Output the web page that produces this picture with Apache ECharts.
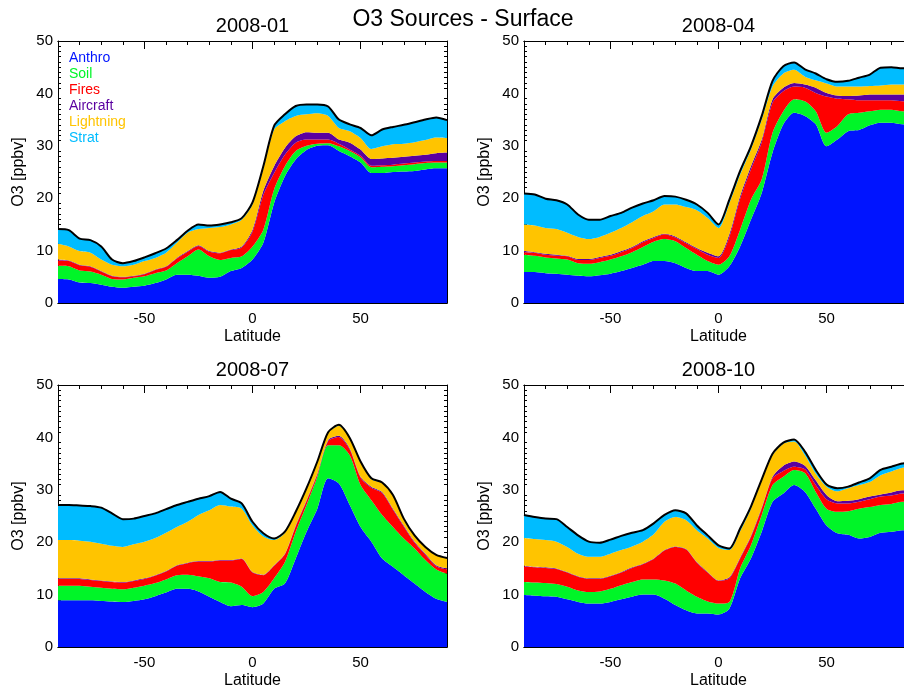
<!DOCTYPE html>
<html>
<head>
<meta charset="utf-8">
<title>O3 Sources - Surface</title>
<script src="https://cdn.jsdelivr.net/npm/echarts@6.0.0/dist/echarts.min.js"></script>
<style>
  html, body { margin: 0; padding: 0; background: #fff; }
  #chart { width: 904px; height: 687px; }
</style>
</head>
<body>
<div id="chart"></div>
<script>
// latitude grid (deg)
var lat = [-90,-85,-80,-75,-70,-65,-60,-55,-50,-45,-40,-35,-30,-25,-20,-15,-10,-5,0,
           5,10,15,20,25,30,35,40,45,50,55,60,65,70,75,80,85,90];

var sourceNames = ['Anthro', 'Soil', 'Fires', 'Aircraft', 'Lightning', 'Strat'];

// 2008-01 contributions [ppbv]
var anthroJan    = [4.6,4.5,3.9,3.8,3.5,3.1,2.9,3.1,3.3,3.8,4.5,5.4,5.4,5.2,4.8,5.0,6.1,6.7,8.3,11.5,19.1,24.2,27.4,29.2,30.0,30.1,29.0,28.0,26.8,24.8,24.8,25.0,25.1,25.2,25.5,25.7,25.7];
var soilJan      = [2.5,2.5,2.3,2.2,1.9,1.5,1.6,1.7,1.8,1.9,1.7,2.2,3.5,5.0,4.1,3.2,2.5,2.2,2.5,2.5,2.6,1.9,1.6,0.8,0.4,0.4,0.9,1.0,1.0,1.1,1.2,1.1,1.2,1.3,1.2,1.1,1.1];
var firesJan     = [1.0,1.0,1.0,0.9,0.6,0.5,0.4,0.3,0.4,0.6,0.7,0.9,0.9,0.7,0.9,1.3,1.5,1.7,2.8,6.6,3.1,2.2,1.6,1.2,0.8,0.7,0.5,0.3,0.3,0.3,0.3,0.3,0.3,0.3,0.3,0.3,0.3];
var aircraftJan  = [0.2,0.1,0.1,0.1,0.1,0.1,0.1,0.1,0.1,0.1,0.1,0.1,0.1,0.1,0.1,0.1,0.1,0.2,0.4,0.8,1.3,1.3,1.2,1.4,1.3,1.3,0.8,1.3,1.2,1.3,1.3,1.3,1.3,1.3,1.3,1.5,1.6];
var lightningJan = [3.0,2.7,2.6,2.6,2.2,2.1,2.0,2.1,2.4,2.2,2.6,2.9,3.5,3.1,4.4,4.9,4.8,5.1,4.8,4.2,7.0,5.1,3.9,3.4,3.7,3.2,2.2,2.2,2.2,1.9,2.3,2.6,2.5,2.6,2.8,3.0,2.8];
var stratJan     = [2.8,3.1,2.4,2.4,2.5,1.0,0.6,0.7,0.7,0.9,0.8,0.5,0.4,0.9,0.5,0.5,0.4,0.3,0.4,0.5,0.7,1.3,1.9,1.9,1.7,1.8,1.6,1.3,1.9,2.6,3.2,3.3,3.6,3.8,3.9,3.8,3.4];

// 2008-04
var anthroApr    = [5.9,5.9,5.7,5.6,5.4,5.2,5.1,5.3,5.6,6.1,6.7,7.3,8.0,8.0,7.6,6.7,6.1,6.1,5.4,7.0,10.8,15.9,21.0,28.7,34.1,36.3,35.7,34.1,29.9,31.2,32.8,33.0,33.9,34.4,34.4,34.1,34.0];
var soilApr      = [3.3,3.1,3.0,2.9,2.9,2.4,2.4,2.5,2.7,2.8,3.0,3.4,3.7,4.2,4.2,3.8,3.1,1.9,1.9,1.9,3.2,3.8,2.6,3.8,2.5,2.6,2.8,2.5,2.6,2.6,3.2,3.3,2.7,2.5,2.5,2.5,2.5];
var firesApr     = [0.5,0.6,0.5,0.5,0.6,0.6,0.7,0.8,0.7,0.8,0.8,0.9,0.7,0.9,0.7,0.9,1.1,1.2,1.3,3.7,5.9,5.8,7.1,5.7,3.8,2.4,2.6,3.5,6.9,5.2,2.9,2.4,2.1,1.8,1.8,1.9,1.9];
var aircraftApr  = [0.2,0.1,0.2,0.2,0.1,0.2,0.2,0.2,0.2,0.2,0.2,0.2,0.2,0.1,0.2,0.2,0.2,0.4,0.3,0.5,0.5,0.6,0.5,0.7,0.7,0.7,0.6,1.0,0.7,0.6,0.6,0.9,1.1,1.1,1.1,1.3,1.3];
var lightningApr = [5.1,5.1,4.9,4.9,4.4,4.2,3.8,3.8,4.2,4.4,4.7,4.8,4.9,5.6,6.1,6.7,7.2,6.6,5.4,5.9,4.1,3.2,3.8,2.4,2.7,2.5,1.5,1.4,1.8,1.7,1.8,1.7,1.6,1.7,1.9,1.9,2.0];
var stratApr     = [5.9,5.9,5.6,5.5,5.4,4.3,3.7,3.3,3.2,2.9,2.8,2.4,2.1,1.6,1.5,1.4,1.1,1.0,0.7,0.7,0.7,0.6,0.7,1.1,1.4,1.4,1.4,1.3,0.8,0.9,1.1,1.7,2.2,3.4,3.3,3.1,3.1];

// 2008-07
var anthroJul    = [8.9,8.9,8.9,8.9,8.8,8.7,8.6,8.8,9.1,9.7,10.4,11.1,11.1,10.6,9.6,8.6,7.8,8.0,7.6,8.3,11.1,12.1,16.9,22.0,26.4,32.2,31.2,27.1,22.9,20.1,16.9,15.3,13.7,12.1,10.5,9.2,8.6];
var soilJul      = [2.8,2.8,2.8,2.6,2.5,2.4,2.4,2.5,2.6,2.5,2.5,2.6,2.7,2.9,3.5,3.8,4.5,3.5,2.1,2.2,2.0,4.1,5.1,5.1,6.1,6.3,7.3,9.5,8.0,7.9,8.3,7.6,7.0,6.7,6.1,5.6,5.4];
var firesJul     = [1.3,1.3,1.3,1.3,1.3,1.3,1.3,1.3,1.3,1.4,1.5,1.8,2.2,2.8,3.2,4.1,4.2,5.3,4.5,3.2,2.4,1.5,1.0,0.7,0.4,0.8,1.6,1.1,1.4,2.4,4.2,3.3,2.3,1.1,1.0,0.6,0.8];
var aircraftJul  = [0.1,0.1,0.1,0.1,0.1,0.1,0.1,0.1,0.1,0.1,0.1,0.1,0.1,0.1,0.1,0.1,0.1,0.1,0.1,0.1,0.1,0.1,0.2,0.2,0.2,0.2,0.2,0.2,0.2,0.2,0.2,0.2,0.2,0.2,0.2,0.2,0.2];
var lightningJul = [7.3,7.3,7.2,7.2,7.0,6.8,6.7,6.9,7.0,7.1,7.3,7.3,7.8,8.8,9.7,10.5,10.2,9.5,8.9,7.3,4.8,4.0,2.4,2.1,2.1,1.3,1.9,1.9,2.7,1.4,1.7,2.5,1.2,1.1,1.2,1.9,1.9];
var stratJul     = [6.7,6.7,6.7,6.8,6.9,6.2,5.3,4.9,4.9,4.7,4.5,4.2,3.8,3.1,2.7,2.5,1.5,1.0,0.7,0.6,0.3,0.2,0.2,0.2,0.2,0.2,0.2,0.1,0.2,0.2,0.1,0.1,0.1,0.1,0.1,0.1,0.1];

// 2008-10
var anthroOct    = [9.9,9.8,9.7,9.6,9.1,8.6,8.3,8.3,8.6,9.1,9.6,10.0,10.0,9.2,8.0,7.0,6.4,6.4,6.2,7.3,13.1,16.9,22.0,27.7,29.3,30.9,29.6,26.4,23.2,21.7,21.4,20.7,21.0,21.8,22.0,22.3,22.3];
var soilOct      = [2.5,2.5,2.5,2.4,2.4,2.2,2.2,2.3,2.5,2.7,2.8,2.9,2.9,3.5,4.1,3.8,3.2,2.3,2.1,1.3,1.9,2.5,3.2,3.2,3.2,2.9,3.6,3.2,3.2,4.1,4.5,5.7,5.7,5.3,5.3,5.4,5.4];
var firesOct     = [3.0,2.9,2.9,2.9,2.7,2.6,2.5,2.4,2.4,2.4,2.7,2.9,3.9,5.7,7.0,7.8,6.5,5.5,4.3,4.5,1.9,1.6,1.2,1.3,1.1,0.6,0.7,1.3,1.8,1.6,1.5,1.3,1.5,1.6,1.6,1.6,1.6];
var aircraftOct  = [0.1,0.1,0.1,0.1,0.1,0.1,0.1,0.1,0.1,0.1,0.1,0.1,0.1,0.1,0.1,0.1,0.1,0.1,0.1,0.2,0.2,0.2,0.2,0.3,1.0,1.0,0.7,0.9,0.8,0.4,0.5,0.5,0.5,0.4,0.6,0.6,0.6];
var lightningOct = [5.3,5.3,5.2,5.1,4.8,4.3,4.1,4.1,4.2,4.2,4.0,4.2,4.6,5.4,5.6,5.5,6.1,6.4,6.2,5.2,5.0,5.2,5.2,4.1,4.2,3.8,2.0,1.3,1.6,1.9,2.4,2.7,2.8,3.7,4.0,4.3,4.5];
var stratOct     = [4.4,4.2,4.1,4.3,3.8,3.5,2.9,2.7,2.7,2.7,2.6,2.2,2.1,1.3,1.3,1.3,0.9,0.6,0.5,0.3,0.5,0.4,0.2,0.3,0.2,0.4,0.7,0.7,0.4,0.6,0.3,0.5,0.7,1.0,0.9,0.8,0.8];

var latTicks = [-50, 0, 50];

var fillColors = ['#0014ff', '#00f528', '#ff0000', '#5a00a0', '#ffc400', '#00bcff'];
var font = '"Liberation Sans", Arial, Helvetica, sans-serif';

var panels = [
  { title: '2008-01', left: 58,  top: 41,  data: [anthroJan, soilJan, firesJan, aircraftJan, lightningJan, stratJan] },
  { title: '2008-04', left: 524, top: 41,  data: [anthroApr, soilApr, firesApr, aircraftApr, lightningApr, stratApr] },
  { title: '2008-07', left: 58,  top: 385, data: [anthroJul, soilJul, firesJul, aircraftJul, lightningJul, stratJul] },
  { title: '2008-10', left: 524, top: 385, data: [anthroOct, soilOct, firesOct, aircraftOct, lightningOct, stratOct] }
];

function isMajor(index, value) {
  return latTicks.indexOf(Number(value)) >= 0;
}
function isMinor(index) {
  return index % 2 === 0;   // every 10 deg
}

var grids = [], xAxes = [], yAxes = [], series = [];
var graphics = [{
  type: 'text', x: 463, y: 20,
  style: { text: 'O3 Sources - Surface', font: '23px ' + font, fill: '#000', align: 'center', verticalAlign: 'middle' }
}];

panels.forEach(function (p, k) {
  // right-hand panels run past the page edge, as in the original figure
  grids.push({ left: p.left, top: p.top, width: 389, height: 262, containLabel: false, outerBoundsMode: 'none' });

  graphics.push({
    type: 'text', x: p.left + 194.5, y: p.top - 15,
    style: { text: p.title, font: '20px ' + font, fill: '#000', align: 'center', verticalAlign: 'middle' }
  });

  var xBase = {
    gridIndex: k, type: 'category', data: lat, boundaryGap: false,
    splitLine: { show: false },
    axisLine: { show: true, onZero: false, lineStyle: { color: '#000', width: 1 } }
  };
  // bottom: minor ticks + axis name (series axis)
  xAxes.push(Object.assign({}, xBase, {
    position: 'bottom',
    axisTick: { inside: true, length: 4, interval: isMinor, lineStyle: { color: '#000' } },
    axisLabel: { show: false },
    name: 'Latitude', nameLocation: 'middle', nameGap: 26,
    nameTextStyle: { fontSize: 16, color: '#000', fontFamily: font }
  }));
  // bottom: major ticks + labels
  xAxes.push(Object.assign({}, xBase, {
    position: 'bottom',
    axisTick: { inside: true, length: 8, interval: isMajor, lineStyle: { color: '#000' } },
    axisLabel: { interval: isMajor, margin: 8, fontSize: 15, color: '#000', fontFamily: font }
  }));
  // top mirror
  xAxes.push(Object.assign({}, xBase, {
    position: 'top',
    axisTick: { inside: true, length: 4, interval: isMinor, lineStyle: { color: '#000' } },
    axisLabel: { show: false }
  }));
  xAxes.push(Object.assign({}, xBase, {
    position: 'top',
    axisTick: { inside: true, length: 8, interval: isMajor, lineStyle: { color: '#000' } },
    axisLabel: { show: false }
  }));

  var yBase = {
    gridIndex: k, type: 'value', min: 0, max: 50, interval: 10,
    splitLine: { show: false },
    axisLine: { show: true, onZero: false, lineStyle: { color: '#000', width: 1 } },
    axisTick: { inside: true, length: 7, lineStyle: { color: '#000' } },
    minorTick: { show: true, splitNumber: 10, length: 3, lineStyle: { color: '#000' } }
  };
  yAxes.push(Object.assign({}, yBase, {
    position: 'left',
    axisLabel: { margin: 5, fontSize: 15, color: '#000', fontFamily: font },
    name: 'O3 [ppbv]', nameLocation: 'middle', nameGap: 31,
    nameTextStyle: { fontSize: 16, color: '#000', fontFamily: font }
  }));
  yAxes.push(Object.assign({}, yBase, {
    position: 'right',
    axisLabel: { show: false }
  }));

  p.data.forEach(function (vals, s) {
    series.push({
      type: 'line',
      name: sourceNames[s],
      xAxisIndex: 4 * k,
      yAxisIndex: 2 * k,
      stack: 'panel' + k,
      smooth: 0.25,
      showSymbol: false,
      silent: true,
      data: vals,
      itemStyle: { color: fillColors[s] },
      lineStyle: s === 5 ? { color: '#000', width: 2 } : { width: 0, color: fillColors[s] },
      areaStyle: { color: fillColors[s], opacity: 1 },
      z: 2
    });
  });
});

var chart = echarts.init(document.getElementById('chart'));
chart.setOption({
  animation: false,
  backgroundColor: '#fff',
  textStyle: { fontFamily: font },
  grid: grids,
  xAxis: xAxes,
  yAxis: yAxes,
  legend: {
    orient: 'vertical', left: 59, top: 46,
    icon: 'none', itemWidth: 0, itemHeight: 14, itemGap: 2,
    selectedMode: false,
    textStyle: { fontSize: 14, fontFamily: font },
    data: sourceNames.map(function (n, i) {
      return { name: n, textStyle: { color: fillColors[i] } };
    })
  },
  graphic: graphics,
  series: series
});
window.addEventListener('resize', function () { chart.resize(); });
</script>
</body>
</html>
